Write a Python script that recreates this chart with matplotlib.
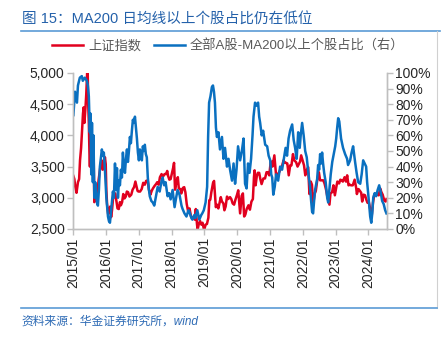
import matplotlib
matplotlib.use("Agg")
import matplotlib.pyplot as plt
import matplotlib.dates as mdates
from matplotlib.lines import Line2D
from matplotlib.ticker import FuncFormatter, MultipleLocator
import pandas as pd

# 上证指数
sh_dates = [
    "2015-01-05", "2015-01-16", "2015-01-26", "2015-02-09", "2015-02-25", "2015-03-10", "2015-03-20",
    "2015-04-01", "2015-04-10", "2015-04-22", "2015-04-30", "2015-05-08", "2015-05-20", "2015-05-28",
    "2015-06-05", "2015-06-12", "2015-06-19", "2015-06-26", "2015-07-03", "2015-07-08", "2015-07-17",
    "2015-07-24", "2015-07-28", "2015-08-07", "2015-08-18", "2015-08-26", "2015-09-07", "2015-09-15",
    "2015-09-30", "2015-10-12", "2015-10-26", "2015-11-06", "2015-11-16", "2015-11-27", "2015-12-08",
    "2015-12-22", "2015-12-31", "2016-01-07", "2016-01-15", "2016-01-27", "2016-02-05", "2016-02-19",
    "2016-02-29", "2016-03-10", "2016-03-22", "2016-04-05", "2016-04-15", "2016-04-28", "2016-05-10",
    "2016-05-24", "2016-06-06", "2016-06-17", "2016-06-30", "2016-07-13", "2016-07-27", "2016-08-10",
    "2016-08-22", "2016-09-05", "2016-09-20", "2016-10-10", "2016-10-25", "2016-11-10", "2016-11-25",
    "2016-12-05", "2016-12-19", "2016-12-30", "2017-01-16", "2017-02-03", "2017-02-20", "2017-03-10",
    "2017-03-24", "2017-04-11", "2017-04-24", "2017-05-11", "2017-05-25", "2017-06-08", "2017-06-26",
    "2017-07-13", "2017-07-26", "2017-08-11", "2017-08-25", "2017-09-12", "2017-09-28", "2017-10-16",
    "2017-11-02", "2017-11-14", "2017-11-24", "2017-12-08", "2017-12-22", "2018-01-08", "2018-01-19",
    "2018-01-29", "2018-02-09", "2018-02-26", "2018-03-12", "2018-03-23", "2018-04-09", "2018-04-20",
    "2018-05-08", "2018-05-22", "2018-06-04", "2018-06-19", "2018-07-05", "2018-07-20", "2018-08-06",
    "2018-08-20", "2018-09-05", "2018-09-17", "2018-09-28", "2018-10-11", "2018-10-18", "2018-10-30",
    "2018-11-14", "2018-11-29", "2018-12-12", "2018-12-28", "2019-01-04", "2019-01-15", "2019-01-30",
    "2019-02-15", "2019-02-25", "2019-03-08", "2019-03-20", "2019-04-08", "2019-04-19", "2019-04-29",
    "2019-05-09", "2019-05-22", "2019-06-06", "2019-06-19", "2019-07-03", "2019-07-16", "2019-08-01",
    "2019-08-12", "2019-08-26", "2019-09-10", "2019-09-23", "2019-10-14", "2019-10-28", "2019-11-12",
    "2019-11-28", "2019-12-13", "2019-12-31", "2020-01-13", "2020-02-03", "2020-02-20", "2020-03-05",
    "2020-03-19", "2020-04-01", "2020-04-16", "2020-05-06", "2020-05-22", "2020-06-08", "2020-06-24",
    "2020-07-06", "2020-07-13", "2020-07-24", "2020-08-07", "2020-08-18", "2020-09-02", "2020-09-15",
    "2020-09-29", "2020-10-19", "2020-11-06", "2020-11-23", "2020-12-08", "2020-12-23", "2021-01-08",
    "2021-01-20", "2021-01-28", "2021-02-18", "2021-03-09", "2021-03-25", "2021-04-12", "2021-04-28",
    "2021-05-17", "2021-05-31", "2021-06-15", "2021-06-29", "2021-07-12", "2021-07-28", "2021-08-13",
    "2021-08-27", "2021-09-13", "2021-09-28", "2021-10-18", "2021-11-03", "2021-11-17", "2021-12-01",
    "2021-12-13", "2021-12-29", "2022-01-14", "2022-01-28", "2022-02-15", "2022-03-01", "2022-03-15",
    "2022-03-30", "2022-04-12", "2022-04-26", "2022-05-11", "2022-05-25", "2022-06-10", "2022-06-28",
    "2022-07-12", "2022-07-28", "2022-08-16", "2022-08-30", "2022-09-16", "2022-09-30", "2022-10-24",
    "2022-11-04", "2022-11-22", "2022-12-07", "2022-12-23", "2023-01-09", "2023-01-20", "2023-02-08",
    "2023-02-22", "2023-03-08", "2023-03-22", "2023-04-10", "2023-04-26", "2023-05-09", "2023-05-24",
    "2023-06-08", "2023-06-21", "2023-07-10", "2023-07-31", "2023-08-17", "2023-08-25", "2023-09-12",
    "2023-09-28", "2023-10-12", "2023-10-23", "2023-11-08", "2023-11-24", "2023-12-08", "2023-12-21",
    "2024-01-05", "2024-01-19", "2024-02-05", "2024-02-20", "2024-03-05", "2024-03-22", "2024-04-09",
    "2024-04-24", "2024-05-10", "2024-05-24", "2024-06-07", "2024-06-24", "2024-07-10", "2024-07-19",
]
sh_values = [
    3350, 3300, 3180, 3080, 3250, 3300, 3600, 3800, 4050, 4350, 4450, 4200, 4450, 4650,
    4950, 5170, 4500, 4200, 3700, 3500, 3950, 4050, 3650, 3750, 3750, 2930, 3100, 3000,
    3050, 3280, 3430, 3550, 3600, 3450, 3470, 3650, 3540, 3120, 2900, 2740, 2780, 2860,
    2690, 2800, 3000, 3050, 3070, 2950, 2830, 2820, 2930, 2880, 2930, 3060, 2990, 3020,
    3100, 3090, 3020, 3050, 3130, 3170, 3260, 3200, 3110, 3100, 3100, 3140, 3240, 3210,
    3270, 3280, 3130, 3050, 3110, 3150, 3190, 3220, 3250, 3210, 3330, 3380, 3340, 3380,
    3380, 3430, 3350, 3290, 3300, 3410, 3480, 3560, 3130, 3270, 3330, 3150, 3140, 3070,
    3160, 3170, 3090, 2900, 2780, 2830, 2700, 2670, 2700, 2650, 2820, 2580, 2490, 2570,
    2630, 2570, 2600, 2490, 2510, 2570, 2580, 2680, 2960, 2970, 3090, 3240, 3270, 3060,
    2850, 2890, 2830, 2920, 3010, 2940, 2910, 2800, 2860, 3020, 2980, 3010, 2980, 2910,
    2890, 2970, 3050, 3120, 2750, 3030, 3070, 2700, 2730, 2820, 2880, 2810, 2940, 2980,
    3330, 3440, 3200, 3350, 3400, 3400, 3300, 3220, 3310, 3310, 3410, 3410, 3360, 3570,
    3580, 3500, 3680, 3360, 3370, 3410, 3460, 3520, 3600, 3560, 3560, 3550, 3360, 3520,
    3520, 3700, 3600, 3570, 3500, 3540, 3580, 3680, 3600, 3520, 3360, 3450, 3490, 3060,
    3260, 3210, 2890, 3060, 3110, 3280, 3410, 3280, 3280, 3280, 3230, 3130, 3020, 2890,
    3070, 3090, 3200, 3040, 3180, 3260, 3230, 3290, 3280, 3260, 3330, 3260, 3360, 3200,
    3210, 3200, 3200, 3290, 3160, 3060, 3140, 3110, 3080, 2940, 3050, 3040, 2970, 2920,
    2930, 2830, 2700, 2920, 3050, 3050, 3050, 3040, 3150, 3090, 3050, 2960, 2940, 2980,
]

# 全部A股-MA200以上个股占比（%）
ma_dates = [
    "2015-01-05", "2015-01-23", "2015-02-14", "2015-02-25", "2015-03-18", "2015-04-09", "2015-04-20",
    "2015-05-12", "2015-06-04", "2015-06-15", "2015-06-26", "2015-07-07", "2015-07-14", "2015-07-23",
    "2015-07-31", "2015-08-10", "2015-08-17", "2015-08-26", "2015-09-05", "2015-09-24", "2015-10-05",
    "2015-10-16", "2015-10-27", "2015-11-18", "2015-11-30", "2015-12-10", "2015-12-22", "2016-01-07",
    "2016-01-25", "2016-02-05", "2016-02-16", "2016-02-26", "2016-03-08", "2016-03-20", "2016-03-31",
    "2016-04-12", "2016-04-23", "2016-05-04", "2016-05-15", "2016-05-26", "2016-06-06", "2016-06-17",
    "2016-06-28", "2016-07-09", "2016-07-20", "2016-08-01", "2016-08-12", "2016-08-23", "2016-09-03",
    "2016-09-14", "2016-09-25", "2016-10-06", "2016-10-17", "2016-10-28", "2016-11-08", "2016-11-20",
    "2016-12-01", "2016-12-12", "2016-12-23", "2017-01-03", "2017-01-14", "2017-01-25", "2017-02-05",
    "2017-02-16", "2017-02-27", "2017-03-10", "2017-03-21", "2017-04-01", "2017-04-12", "2017-04-23",
    "2017-05-04", "2017-05-21", "2017-06-06", "2017-06-23", "2017-07-09", "2017-07-31", "2017-08-22",
    "2017-09-13", "2017-09-24", "2017-10-11", "2017-10-27", "2017-11-18", "2017-12-05", "2017-12-22",
    "2018-01-13", "2018-02-04", "2018-02-21", "2018-03-09", "2018-03-31", "2018-04-22", "2018-05-03",
    "2018-05-25", "2018-06-16", "2018-07-08", "2018-07-19", "2018-08-10", "2018-08-21", "2018-09-12",
    "2018-09-23", "2018-10-15", "2018-11-06", "2018-11-28", "2018-12-09", "2018-12-26", "2019-01-15",
    "2019-02-01", "2019-02-12", "2019-02-23", "2019-03-10", "2019-03-26", "2019-04-07", "2019-04-18",
    "2019-04-29", "2019-05-10", "2019-05-21", "2019-06-07", "2019-06-24", "2019-07-16", "2019-08-02",
    "2019-08-19", "2019-09-10", "2019-09-27", "2019-10-14", "2019-11-05", "2019-11-22", "2019-12-09",
    "2019-12-25", "2020-01-11", "2020-02-03", "2020-02-25", "2020-03-12", "2020-03-29", "2020-04-15",
    "2020-05-01", "2020-05-18", "2020-06-04", "2020-06-20", "2020-07-01", "2020-07-18", "2020-08-04",
    "2020-08-21", "2020-09-02", "2020-09-13", "2020-09-30", "2020-10-16", "2020-11-08", "2020-11-30",
    "2020-12-16", "2021-01-03", "2021-01-14", "2021-01-25", "2021-02-06", "2021-02-22", "2021-03-09",
    "2021-04-01", "2021-04-23", "2021-05-15", "2021-06-07", "2021-06-23", "2021-07-09", "2021-07-26",
    "2021-08-12", "2021-09-04", "2021-09-21", "2021-10-07", "2021-10-24", "2021-11-10", "2021-11-27",
    "2021-12-08", "2021-12-24", "2022-01-10", "2022-01-27", "2022-02-13", "2022-03-01", "2022-03-22",
    "2022-04-03", "2022-04-14", "2022-04-25", "2022-05-06", "2022-05-17", "2022-06-09", "2022-06-20",
    "2022-07-01", "2022-07-12", "2022-07-23", "2022-08-03", "2022-08-14", "2022-08-26", "2022-09-12",
    "2022-09-29", "2022-10-10", "2022-10-21", "2022-11-07", "2022-11-24", "2022-12-10", "2022-12-27",
    "2023-01-07", "2023-01-18", "2023-01-29", "2023-02-10", "2023-02-21", "2023-03-02", "2023-03-24",
    "2023-04-16", "2023-05-08", "2023-05-19", "2023-06-11", "2023-06-27", "2023-07-14", "2023-07-25",
    "2023-08-05", "2023-08-22", "2023-09-08", "2023-10-01", "2023-10-17", "2023-11-03", "2023-11-20",
    "2023-12-06", "2023-12-17", "2023-12-30", "2024-01-09", "2024-01-20", "2024-02-01", "2024-02-12",
    "2024-02-23", "2024-03-10", "2024-03-26", "2024-04-12", "2024-04-29", "2024-05-15", "2024-06-01",
    "2024-06-18", "2024-07-05", "2024-07-19",
]
ma_values = [
    73, 88, 81, 92, 97, 98, 95, 97, 95, 92, 85, 62, 74, 35, 68, 30, 60, 20, 30, 17, 15,
    25, 40, 51, 47, 49, 38, 20, 8, 5, 4, 10, 17, 24, 20, 42, 25, 39, 20, 31, 28, 38,
    33, 49, 40, 36, 45, 51, 43, 50, 59, 55, 63, 70, 68, 72, 65, 58, 49, 44, 51, 48, 44,
    53, 50, 54, 48, 46, 33, 26, 21, 18, 17, 15, 20, 27, 24, 31, 33, 28, 30, 21, 23, 19,
    25, 14, 20, 25, 22, 15, 13, 10, 8, 12, 11, 7, 6, 9, 7, 12, 6, 9, 10, 12, 17,
    27, 59, 81, 85, 91, 92, 88, 81, 65, 59, 62, 51, 59, 45, 52, 40, 45, 38, 31, 42, 29,
    38, 53, 44, 51, 58, 29, 26, 42, 36, 45, 60, 72, 81, 79, 81, 72, 68, 60, 63, 54, 53,
    47, 44, 35, 33, 22, 27, 35, 31, 40, 38, 46, 52, 47, 58, 63, 67, 57, 52, 45, 62, 52,
    60, 68, 60, 50, 46, 37, 27, 18, 11, 10, 18, 25, 32, 41, 38, 48, 42, 49, 42, 36, 30,
    20, 17, 24, 35, 43, 48, 53, 58, 65, 71, 69, 63, 58, 52, 48, 45, 41, 44, 49, 53, 48,
    43, 36, 30, 29, 35, 44, 42, 40, 30, 22, 15, 8, 4, 10, 20, 23, 21, 25, 28, 24, 18,
    16, 12, 10,
]

sh = pd.Series(sh_values, index=pd.to_datetime(sh_dates))
ma = pd.Series(ma_values, index=pd.to_datetime(ma_dates))

RED = "#E1001E"
BLUE = "#0A70C0"
TITLE_BLUE = "#2461AA"
GRAY = "#BFBFBF"
LATIN_CJK = ["Liberation Sans", "Noto Sans CJK SC"]

plt.rcParams["font.family"] = LATIN_CJK
plt.rcParams["axes.unicode_minus"] = False

fig = plt.figure(figsize=(4.46, 3.37), dpi=100)
ax = fig.add_axes([0.1637, 0.3205, 0.704, 0.4629])
ax2 = ax.twinx()

l1, = ax.plot(sh.index, sh.values, color=RED, lw=1.8, label="上证指数")
l2, = ax2.plot(ma.index, ma.values, color=BLUE, lw=1.8, label="全部A股-MA200以上个股占比（右）")

ax.set_xlim(pd.Timestamp("2015-01-01"), pd.Timestamp("2024-07-25"))
ax.set_ylim(2500, 5000)
ax2.set_ylim(0, 100)
ax.yaxis.set_major_locator(MultipleLocator(500))
ax2.yaxis.set_major_locator(MultipleLocator(10))
ax.yaxis.set_major_formatter(FuncFormatter(lambda v, p: f"{v:,.0f}"))
ax2.yaxis.set_major_formatter(FuncFormatter(lambda v, p: f"{v:.0f}%"))
ax.xaxis.set_major_locator(mdates.YearLocator())
ax.xaxis.set_major_formatter(mdates.DateFormatter("%Y/%m"))

for a in (ax, ax2):
    a.spines["top"].set_visible(False)
    for s in ("left", "right", "bottom"):
        a.spines[s].set_color(GRAY)
        a.spines[s].set_linewidth(1.0)
    a.tick_params(colors=GRAY, labelcolor="#262626", labelsize=10, length=4, width=1.0)
ax.tick_params(axis="x", rotation=90, pad=2)
ax.tick_params(axis="y", pad=2)
ax2.tick_params(axis="y", pad=2)

fig.legend(handles=[l1, l2], loc="center", bbox_to_anchor=(0.512, 0.8635), ncol=2,
           frameon=False, fontsize=9.5, handlelength=2.3, handletextpad=0.4,
           columnspacing=1.0, labelcolor="#595959")

# 标题、分隔线与资料来源
fig.text(0.049, 0.94, "图 15：MA200 日均线以上个股占比仍在低位", color=TITLE_BLUE,
         fontsize=10.5, va="center", ha="left")
fig.add_artist(Line2D([0.047, 0.987], [0.908, 0.908], transform=fig.transFigure,
                      color="#5B9BD5", lw=1.2))
fig.add_artist(Line2D([0.98, 0.98], [0.908, 0.086], transform=fig.transFigure,
                      color="#D0D0D0", lw=0.8))
fig.add_artist(Line2D([0.047, 0.98], [0.086, 0.086], transform=fig.transFigure,
                      color="#5B9BD5", lw=1.2))
fig.text(0.049, 0.047, "资料来源：华金证券研究所，wind", color="#2E6BB5",
         fontsize=8.5, style="italic", va="center", ha="left")

fig.savefig("out.png", dpi=100)
